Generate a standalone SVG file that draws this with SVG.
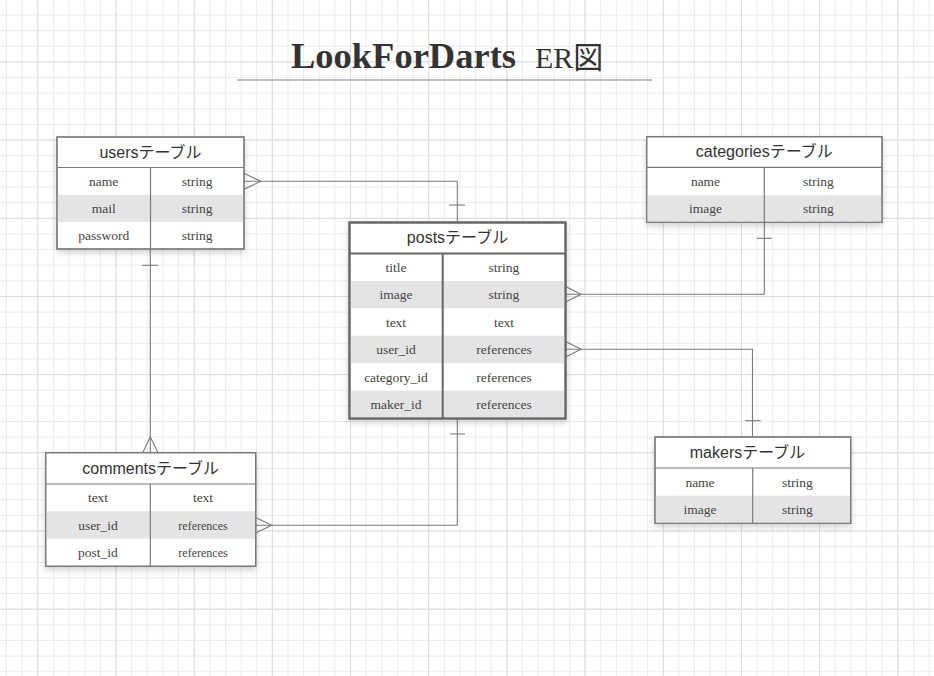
<svg xmlns="http://www.w3.org/2000/svg" width="934" height="676" viewBox="0 0 934 676">
<defs>
<pattern id="minor" patternUnits="userSpaceOnUse" x="6.03" y="14.5" width="15.636" height="15.636">
<rect x="0" y="0" width="1" height="15.636" fill="#ececec"/>
<rect x="0" y="0" width="15.636" height="1" fill="#ececec"/>
</pattern>
<pattern id="major" patternUnits="userSpaceOnUse" x="37.3" y="61.4" width="78.18" height="78.18">
<rect x="0" y="0" width="1" height="78.18" fill="#dcdcdc"/>
<rect x="0" y="0" width="78.18" height="1" fill="#dcdcdc"/>
</pattern>
<filter id="sh" x="-10%" y="-10%" width="120%" height="130%">
<feDropShadow dx="0" dy="3" stdDeviation="3" flood-color="#000" flood-opacity="0.18"/>
</filter>
<style>
.box{fill:#fff;stroke:#7a7a7a;stroke-width:1.2}
.boxb{fill:#fff;stroke:#666;stroke-width:2}
.sep{stroke:#7a7a7a;stroke-width:1.2;fill:none}
.shade{fill:#e4e4e4}
.hd{font-family:"Liberation Sans","Noto Sans CJK JP",sans-serif;font-size:16px;fill:#333;text-anchor:middle}
.cell{font-family:"Liberation Serif","Noto Sans CJK JP",serif;font-size:13.5px;fill:#444;text-anchor:middle}
.small{font-size:12px}
.con{stroke:#7a7a7a;stroke-width:1.1;fill:none}
</style>
</defs>
<rect width="934" height="676" fill="#fff"/>
<rect width="934" height="676" fill="url(#minor)"/>
<rect width="934" height="676" fill="url(#major)"/>

<g id="title">
<text x="291" y="68" font-family="Liberation Serif, serif" font-weight="bold" font-size="36" fill="#333" textLength="225" lengthAdjust="spacingAndGlyphs">LookForDarts</text>
<text x="535" y="68" font-family="Liberation Serif, 'Noto Sans CJK JP', serif" font-size="30" fill="#333">ER図</text>
<line x1="237" y1="80" x2="652" y2="80" stroke="#aaa" stroke-width="1.5"/>
</g>

<g id="connectors">
<!-- users -> posts -->
<path class="con" d="M244 181.3 H457.3 V222.5"/>
<path class="con" d="M244 173.3 L260.7 181.3 L244 189.3"/>
<line class="con" x1="449" y1="205" x2="465" y2="205"/>
<!-- users -> comments -->
<path class="con" d="M150.3 249 V452.7"/>
<line class="con" x1="142" y1="265.3" x2="158" y2="265.3"/>
<path class="con" d="M142.7 452.7 L150.3 436.7 L158 452.7"/>
<!-- posts -> comments -->
<path class="con" d="M457.3 418.3 V525.3 H255.7"/>
<line class="con" x1="450" y1="434" x2="465" y2="434"/>
<path class="con" d="M255.7 517.5 L271.7 525.3 L255.7 533"/>
<!-- categories -> posts -->
<path class="con" d="M764.3 222.3 V294.3 H565.7"/>
<line class="con" x1="756.7" y1="238.3" x2="772" y2="238.3"/>
<path class="con" d="M565.7 286.5 L581 294.3 L565.7 302"/>
<!-- makers -> posts -->
<path class="con" d="M752.5 437 V349.3 H565.7"/>
<line class="con" x1="745" y1="420.7" x2="760.7" y2="420.7"/>
<path class="con" d="M565.7 341.5 L581 349.3 L565.7 357"/>
</g>

<g id="users">
<rect class="box" x="57" y="137" width="187" height="112" filter="url(#sh)"/>
<rect class="shade" x="57.6" y="194.7" width="185.8" height="27.2"/>
<rect class="box" x="57" y="137" width="187" height="112" fill="none" style="fill:none"/>
<line class="sep" x1="57" y1="167.5" x2="244" y2="167.5"/>
<line class="sep" x1="150.5" y1="167.5" x2="150.5" y2="249"/>
<text class="hd" x="150.5" y="157.5">usersテーブル</text>
<text class="cell" x="103.7" y="186">name</text>
<text class="cell" x="197.2" y="186">string</text>
<text class="cell" x="103.7" y="213.2">mail</text>
<text class="cell" x="197.2" y="213.2">string</text>
<text class="cell" x="103.7" y="240.4">password</text>
<text class="cell" x="197.2" y="240.4">string</text>
</g>

<g id="posts">
<rect class="boxb" x="349.5" y="222.5" width="216" height="196" filter="url(#sh)"/>
<rect class="shade" x="350.5" y="281" width="214" height="27.3"/>
<rect class="shade" x="350.5" y="335.7" width="214" height="27.6"/>
<rect class="shade" x="350.5" y="390.7" width="214" height="26.6"/>
<rect class="boxb" x="349.5" y="222.5" width="216" height="196" style="fill:none"/>
<line class="sep" x1="349.5" y1="253.5" x2="565.5" y2="253.5" style="stroke:#666;stroke-width:2"/>
<line class="sep" x1="442.7" y1="253.5" x2="442.7" y2="418.5" style="stroke:#666;stroke-width:2"/>
<text class="hd" x="457.5" y="243">postsテーブル</text>
<text class="cell" x="396" y="272">title</text>
<text class="cell" x="504" y="272">string</text>
<text class="cell" x="396" y="299.3">image</text>
<text class="cell" x="504" y="299.3">string</text>
<text class="cell" x="396" y="326.7">text</text>
<text class="cell" x="504" y="326.7">text</text>
<text class="cell" x="396" y="354.2">user_id</text>
<text class="cell" x="504" y="354.2">references</text>
<text class="cell" x="396" y="381.6">category_id</text>
<text class="cell" x="504" y="381.6">references</text>
<text class="cell" x="396" y="409">maker_id</text>
<text class="cell" x="504" y="409">references</text>
</g>

<g id="comments">
<rect class="box" x="45.7" y="452.7" width="210" height="113.6" filter="url(#sh)"/>
<rect class="shade" x="46.3" y="511.3" width="208.8" height="27.4"/>
<rect class="box" x="45.7" y="452.7" width="210" height="113.6" style="fill:none"/>
<line class="sep" x1="45.7" y1="484" x2="255.7" y2="484"/>
<line class="sep" x1="150.3" y1="484" x2="150.3" y2="566.3"/>
<text class="hd" x="150.7" y="473.5">commentsテーブル</text>
<text class="cell" x="98" y="502.3">text</text>
<text class="cell" x="203" y="502.3">text</text>
<text class="cell" x="98" y="529.7">user_id</text>
<text class="cell small" x="203" y="529.5">references</text>
<text class="cell" x="98" y="557">post_id</text>
<text class="cell small" x="203" y="556.8">references</text>
</g>

<g id="categories">
<rect class="box" x="646.7" y="136.7" width="235.3" height="85.6" filter="url(#sh)"/>
<rect class="shade" x="647.3" y="195.3" width="234.1" height="27"/>
<rect class="box" x="646.7" y="136.7" width="235.3" height="85.6" style="fill:none"/>
<line class="sep" x1="646.7" y1="167.3" x2="882" y2="167.3"/>
<line class="sep" x1="764.3" y1="167.3" x2="764.3" y2="222.3"/>
<text class="hd" x="764.3" y="157.3">categoriesテーブル</text>
<text class="cell" x="705.5" y="186">name</text>
<text class="cell" x="818.5" y="186">string</text>
<text class="cell" x="705.5" y="213.3">image</text>
<text class="cell" x="818.5" y="213.3">string</text>
</g>

<g id="makers">
<rect class="box" x="655" y="437" width="195.7" height="86.3" filter="url(#sh)"/>
<rect class="shade" x="655.6" y="495.7" width="194.5" height="27.6"/>
<rect class="box" x="655" y="437" width="195.7" height="86.3" style="fill:none"/>
<line class="sep" x1="655" y1="468" x2="850.7" y2="468"/>
<line class="sep" x1="752.7" y1="468" x2="752.7" y2="523.3"/>
<text class="hd" x="747.5" y="457.5">makersテーブル</text>
<text class="cell" x="700" y="486.5">name</text>
<text class="cell" x="797.5" y="486.5">string</text>
<text class="cell" x="700" y="514">image</text>
<text class="cell" x="797.5" y="514">string</text>
</g>
</svg>
